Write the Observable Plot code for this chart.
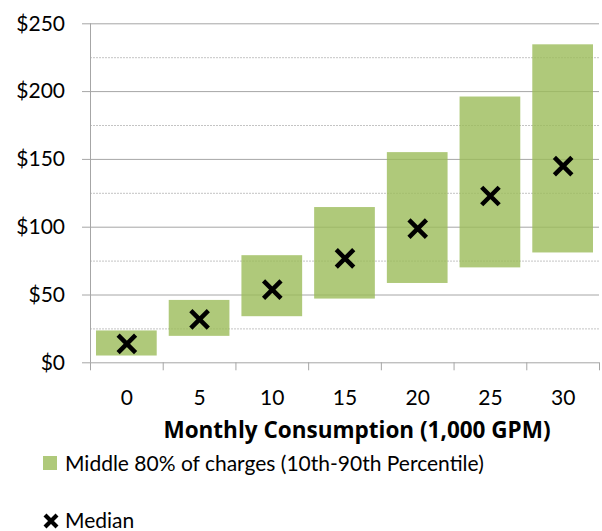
<!DOCTYPE html>
<html><head><meta charset="utf-8">
<script src="https://cdn.jsdelivr.net/npm/d3@7"></script>
<script src="https://cdn.jsdelivr.net/npm/@observablehq/plot@0.6"></script>
<style>
body{margin:0;background:#fff;font-family:Lato,sans-serif;width:602px;height:531px;position:relative;overflow:hidden;}
#chart{position:absolute;left:0;top:0;}
.leg{position:absolute;left:0;font-size:21px;line-height:15px;color:#000;white-space:nowrap;}
.leg .txt{position:absolute;left:65px;top:0;}
.sw{position:absolute;left:43px;width:14px;height:14px;background:#9BBB59;opacity:0.8;}
.mk{position:absolute;left:42px;}
</style></head><body>
<div id="chart"></div>
<div class="leg" style="top:455px;"><div class="sw" style="top:1px;"></div><div class="txt">Middle 80% of charges (10th-90th Percentile)</div></div>
<div class="leg" style="top:512px;"><svg class="mk" style="top:1px;" width="18" height="16" viewBox="0 0 18 16"><path d="M3,2L15,14M15,2L3,14" stroke="#000" stroke-width="4.2"/></svg><div class="txt">Median</div></div>
<script>
const consumption = [0, 5, 10, 15, 20, 25, 30];
const p10 = [5, 19.5, 34, 47, 58.5, 70, 81];
const p90 = [23.5, 46, 79, 114.5, 155, 196, 234.5];
const median = [14, 32, 54, 77, 99, 123, 145];
const yTicks = [0, 50, 100, 150, 200, 250];
const yMinor = [25, 75, 125, 175, 225];
const xTitle = "Monthly Consumption (1,000 GPM)";

const data = consumption.map((c, i) => ({c, lo: p10[i], hi: p90[i], med: median[i]}));
const half = 2.5;
const boundaries = consumption.map(c => c - half).concat([consumption[consumption.length - 1] + half]);

const gray = "#a6a6a6";
const chart = Plot.plot({
  width: 602,
  height: 445,
  marginLeft: 90,
  marginRight: 3,
  marginTop: 23.3,
  marginBottom: 82.7,
  style: {fontFamily: "Lato, sans-serif", fontSize: "21px", color: "#000", background: "#fff"},
  x: {type: "linear", domain: [boundaries[0], boundaries[boundaries.length - 1]]},
  y: {domain: [0, 250]},
  marks: [
    Plot.ruleY(yMinor, {stroke: "#c4c4c4", strokeDasharray: "2,1"}),
    Plot.ruleY(yTicks, {stroke: gray}),
    Plot.ruleX([boundaries[0]], {stroke: gray}),
    Plot.rectY(data, {x1: d => d.c - half, x2: d => d.c + half, y1: "lo", y2: "hi",
      fill: "#9BBB59", fillOpacity: 0.8, insetLeft: 6, insetRight: 6}),
    Plot.dot(data, {x: "c", y: "med", symbol: "times", r: 8, stroke: "#000", strokeWidth: 4.5}),
    Plot.axisY({ticks: yTicks, tickSize: 8, tickPadding: 17.5, tickFormat: d => "$" + d,
      fontSize: 21, stroke: gray, fill: "#000", label: null}),
    Plot.axisX({ticks: boundaries, tickSize: 8, tickFormat: () => "", stroke: gray, label: null}),
    Plot.axisX({ticks: consumption, tickSize: 0, tickPadding: 27.7, fontSize: 21, fill: "#000",
      lineAnchor: "top", label: null}),
    Plot.text([xTitle], {frameAnchor: "bottom", lineAnchor: "middle", dx: 12, dy: 67.7,
      fontSize: 22.5, fontWeight: "bold", fontFamily: "'Open Sans', sans-serif", fill: "#000"})
  ]
});
document.getElementById("chart").appendChild(chart);
</script>
</body></html>
